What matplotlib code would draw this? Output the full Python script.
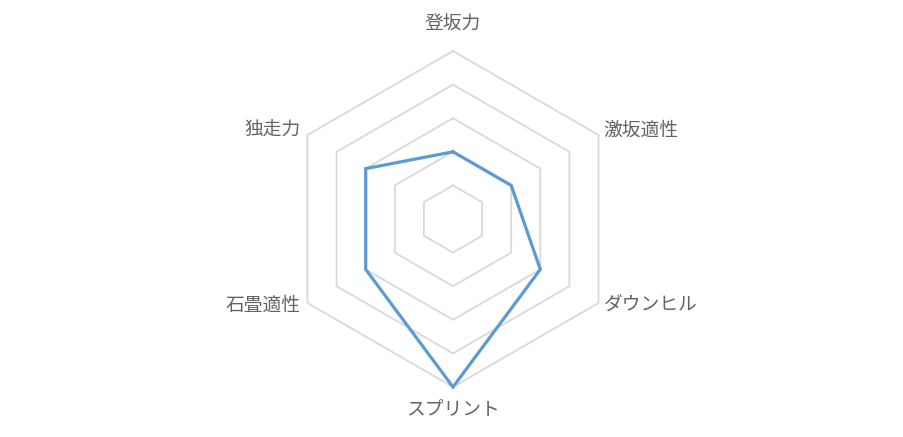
import numpy as np
import matplotlib
matplotlib.use("Agg")
import matplotlib.pyplot as plt

plt.rcParams["font.family"] = ["Noto Sans CJK JP", "DejaVu Sans"]

# axes, clockwise from the top
categories = ["登坂力", "激坂適性", "ダウンヒル", "スプリント", "石畳適性", "独走力"]
values = [2, 2, 3, 5, 3, 3]
levels = [1, 2, 3, 4, 5]

LINE_COLOR = "#5B9BD5"
GRID_COLOR = "#D9D9D9"
TEXT_COLOR = "#636363"

n = len(categories)
angles = np.pi / 2 - np.arange(n) * 2 * np.pi / n
ca = np.append(np.cos(angles), np.cos(angles[0]))
sa = np.append(np.sin(angles), np.sin(angles[0]))

fig = plt.figure(figsize=(9.04, 4.37), dpi=100)
ax = fig.add_axes([0, 0, 1, 1])
scale = 33.6  # pixels per level
cx, cy = 453, 219
ax.set_xlim(-cx / scale, (904 - cx) / scale)
ax.set_ylim(-(437 - cy) / scale, cy / scale)
ax.set_aspect("equal")
ax.axis("off")

for lv in levels:
    ax.plot(lv * ca, lv * sa, color=GRID_COLOR, lw=1.3, zorder=1)

vals = np.append(values, values[0])
ax.plot(vals * ca, vals * sa, color=LINE_COLOR, lw=2.3, zorder=3,
        solid_joinstyle="miter")

r_lab = max(levels)
fs = 13.5
for i, cat in enumerate(categories):
    x = r_lab * np.cos(angles[i])
    y = r_lab * np.sin(angles[i])
    if abs(x) < 1e-6:
        va = "bottom" if y > 0 else "top"
        dy = 0.5 if y > 0 else -0.35
        ax.text(x, y + dy, cat, ha="center", va=va, fontsize=fs,
                color=TEXT_COLOR)
    else:
        ha = "left" if x > 0 else "right"
        dx = 0.15 if x > 0 else -0.22
        dy = 0.15 if y > 0 else -0.06
        ax.text(x + dx, y + dy, cat, ha=ha, va="center", fontsize=fs,
                color=TEXT_COLOR)

fig.savefig("out.png", dpi=100)
